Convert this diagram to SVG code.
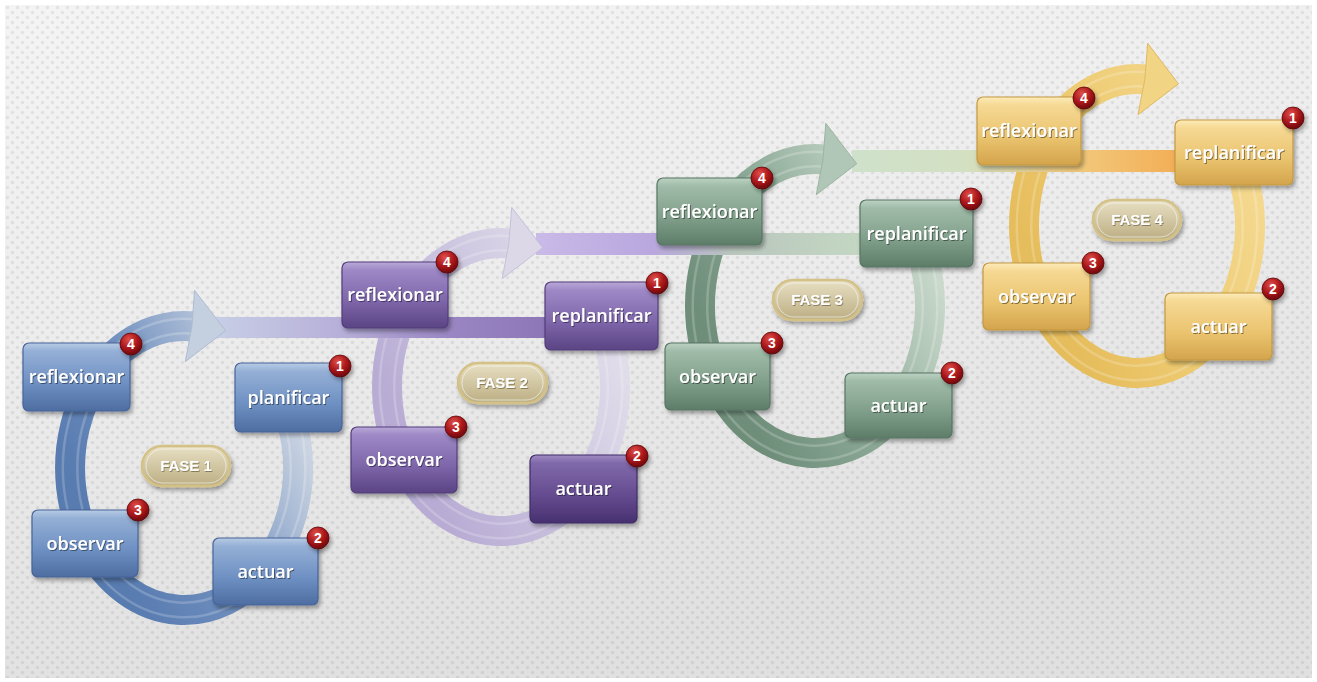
<svg xmlns="http://www.w3.org/2000/svg" width="1317" height="682" viewBox="0 0 1317 682">
<defs>
<linearGradient id="bg" x1="0" y1="0" x2="0.3" y2="1">
<stop offset="0" stop-color="#f4f4f4"/><stop offset="0.5" stop-color="#ececec"/><stop offset="1" stop-color="#e0e0e0"/>
</linearGradient>
<pattern id="dots" width="10" height="10" patternUnits="userSpaceOnUse">
<circle cx="2.5" cy="2.5" r="1.7" fill="#000" fill-opacity="0.07"/>
<circle cx="7.5" cy="7.5" r="1.7" fill="#000" fill-opacity="0.07"/>
</pattern>
<linearGradient id="gBlue" x1="0" y1="0" x2="0" y2="1">
<stop offset="0" stop-color="#b8cbe4"/><stop offset="0.12" stop-color="#95b0d6"/><stop offset="0.6" stop-color="#6d8fc2"/><stop offset="1" stop-color="#4e6da0"/>
</linearGradient>
<linearGradient id="gPurple" x1="0" y1="0" x2="0" y2="1">
<stop offset="0" stop-color="#b9a9d8"/><stop offset="0.12" stop-color="#9e89c6"/><stop offset="0.6" stop-color="#7d65a9"/><stop offset="1" stop-color="#5b4484"/>
</linearGradient>
<linearGradient id="gPurpleD" x1="0" y1="0" x2="0" y2="1">
<stop offset="0" stop-color="#a08bc3"/><stop offset="0.12" stop-color="#8069aa"/><stop offset="0.6" stop-color="#644b8f"/><stop offset="1" stop-color="#473170"/>
</linearGradient>
<linearGradient id="gGreen" x1="0" y1="0" x2="0" y2="1">
<stop offset="0" stop-color="#bcd2c2"/><stop offset="0.12" stop-color="#a0bca9"/><stop offset="0.6" stop-color="#7f9e89"/><stop offset="1" stop-color="#5e7d69"/>
</linearGradient>
<linearGradient id="gGold" x1="0" y1="0" x2="0" y2="1">
<stop offset="0" stop-color="#fcebb8"/><stop offset="0.12" stop-color="#f6d994"/><stop offset="0.6" stop-color="#eac36e"/><stop offset="1" stop-color="#d3a44c"/>
</linearGradient>
<linearGradient id="rBlue" x1="0.1" y1="0.7" x2="0.9" y2="0.2">
<stop offset="0" stop-color="#587bb0"/><stop offset="0.45" stop-color="#7090bf"/><stop offset="1" stop-color="#c8d2e1" stop-opacity="0.9"/>
</linearGradient>
<linearGradient id="rPurple" x1="0.1" y1="0.7" x2="0.9" y2="0.2">
<stop offset="0" stop-color="#b8acd4"/><stop offset="0.45" stop-color="#c9c1de"/><stop offset="1" stop-color="#e0dcea" stop-opacity="0.9"/>
</linearGradient>
<linearGradient id="rGreen" x1="0.1" y1="0.7" x2="0.9" y2="0.2">
<stop offset="0" stop-color="#6f8e7a"/><stop offset="0.45" stop-color="#8aa895"/><stop offset="1" stop-color="#c6d7c9" stop-opacity="0.9"/>
</linearGradient>
<linearGradient id="rGold" x1="0.1" y1="0.7" x2="0.9" y2="0.2">
<stop offset="0" stop-color="#e6bd5c"/><stop offset="0.45" stop-color="#eecb72"/><stop offset="1" stop-color="#f4d88e"/>
</linearGradient>
<linearGradient id="bandA" x1="212" y1="0" x2="552" y2="0" gradientUnits="userSpaceOnUse">
<stop offset="0" stop-color="#c8cfe6"/><stop offset="0.38" stop-color="#b7afd9"/><stop offset="0.7" stop-color="#9a86c3"/><stop offset="1" stop-color="#8d76b7"/>
</linearGradient>
<linearGradient id="bandB" x1="536" y1="0" x2="866" y2="0" gradientUnits="userSpaceOnUse">
<stop offset="0" stop-color="#c9bae8"/><stop offset="0.35" stop-color="#b9a7de"/><stop offset="0.6" stop-color="#b9c6bd"/><stop offset="1" stop-color="#c4d8c3"/>
</linearGradient>
<linearGradient id="bandC" x1="852" y1="0" x2="1180" y2="0" gradientUnits="userSpaceOnUse">
<stop offset="0" stop-color="#cfe1cb"/><stop offset="0.35" stop-color="#d3e0c2"/><stop offset="0.65" stop-color="#f1cc80"/><stop offset="1" stop-color="#f3ad55"/>
</linearGradient>
<radialGradient id="badgeG" cx="0.4" cy="0.3" r="0.7">
<stop offset="0" stop-color="#e0504a"/><stop offset="0.6" stop-color="#a8151a"/><stop offset="1" stop-color="#6e0a0c"/>
</radialGradient>
<linearGradient id="pillG" x1="0" y1="0" x2="0" y2="1">
<stop offset="0" stop-color="#e8e0c4"/><stop offset="0.5" stop-color="#d2c7a3"/><stop offset="1" stop-color="#bcae84"/>
</linearGradient>
<filter id="shadow" x="-20%" y="-20%" width="150%" height="160%">
<feDropShadow dx="2" dy="3" stdDeviation="2" flood-color="#000" flood-opacity="0.35"/>
</filter>
<filter id="tshadow" x="-10%" y="-20%" width="130%" height="160%">
<feDropShadow dx="1" dy="1" stdDeviation="0.7" flood-color="#000" flood-opacity="0.45"/>
</filter>
<filter id="pshadow" x="-10%" y="-30%" width="130%" height="170%">
<feDropShadow dx="0.8" dy="1" stdDeviation="0.5" flood-color="#6b5f3c" flood-opacity="0.7"/>
</filter>
<style>
.box{stroke-width:1.2;filter:url(#shadow)}
.blue{fill:url(#gBlue);stroke:#46649a}
.purple{fill:url(#gPurple);stroke:#523d7a}
.purpled{fill:url(#gPurpleD);stroke:#3f2c66}
.green{fill:url(#gGreen);stroke:#577563}
.gold{fill:url(#gGold);stroke:#c39843}
.lbl{font-family:"Open Sans","Liberation Sans",sans-serif;font-weight:600;font-size:18px;fill:#fff;text-anchor:middle;filter:url(#tshadow)}
.badge{fill:url(#badgeG);stroke:#5a0608;stroke-width:0.8;filter:url(#shadow)}
.num{font-family:"Liberation Sans",Arial,sans-serif;font-weight:bold;font-size:14px;fill:#fff;text-anchor:middle}
.pill{fill:url(#pillG);stroke:#d4c185;stroke-width:2.4;filter:url(#shadow)}
.pillhl{fill:none;stroke:#fff;stroke-opacity:0.55;stroke-width:1}
.ptxt{font-family:"Liberation Sans Narrow","Liberation Sans",Arial,sans-serif;font-weight:bold;font-size:15px;fill:#ffffff;text-anchor:middle;filter:url(#pshadow)}
.ring{fill:none;stroke-width:30}
.groove{fill:none;stroke:#fff;stroke-opacity:0.2;stroke-width:17}
.inner{fill:none;stroke-width:12}
</style>
</defs>

<rect width="1317" height="682" fill="#ffffff"/>
<rect x="5" y="5" width="1307" height="673" fill="url(#bg)"/>
<rect x="5" y="5" width="1307" height="673" fill="url(#dots)"/>

<g id="connectors">
<g id="ring1">
<path class="ring" stroke="url(#rBlue)" d="M277.4 386.5 A114 142 0 1 1 195.9 326.8"/>
<path class="groove" d="M277.4 386.5 A114 142 0 1 1 195.9 326.8"/>
<path class="inner" stroke="url(#rBlue)" d="M277.4 386.5 A114 142 0 1 1 195.9 326.8"/>
</g>
<g id="ring2">
<path class="ring" stroke="url(#rPurple)" d="M594.4 304.4 A114 144 0 1 1 512.9 243.8"/>
<path class="groove" d="M594.4 304.4 A114 144 0 1 1 512.9 243.8"/>
<path class="inner" stroke="url(#rPurple)" d="M594.4 304.4 A114 144 0 1 1 512.9 243.8"/>
</g>
<g id="ring3">
<path class="ring" stroke="url(#rGreen)" d="M909.2 221.7 A115 147 0 1 1 827.0 159.8"/>
<path class="groove" d="M909.2 221.7 A115 147 0 1 1 827.0 159.8"/>
<path class="inner" stroke="url(#rGreen)" d="M909.2 221.7 A115 147 0 1 1 827.0 159.8"/>
</g>
<g id="ring4">
<path class="ring" stroke="url(#rGold)" d="M1229.6 141.7 A113 147 0 1 1 1148.8 79.8"/>
<path class="groove" d="M1229.6 141.7 A113 147 0 1 1 1148.8 79.8"/>
<path class="inner" stroke="url(#rGold)" d="M1229.6 141.7 A113 147 0 1 1 1148.8 79.8"/>
</g>
<rect x="212" y="317" width="340" height="21" fill="url(#bandA)"/>
<rect x="536" y="233" width="330" height="22" fill="url(#bandB)"/>
<rect x="852" y="150" width="328" height="22" fill="url(#bandC)"/>
<polygon points="194.6,290.4 225.6,330.7 185.3,361.7 191.9,326.3" fill="#c4cfdf" stroke="#aebcd1" stroke-width="1"/>
<polygon points="511.7,207.3 542.6,247.7 502.2,278.7 508.9,243.3" fill="#dcd8e7" stroke="#c6c0d8" stroke-width="1"/>
<polygon points="825.8,123.3 856.7,163.8 816.3,194.7 823.0,159.3" fill="#b0c6b6" stroke="#9cb5a3" stroke-width="1"/>
<polygon points="1147.7,43.3 1178.5,83.9 1138.0,114.7 1144.8,79.3" fill="#f2d485" stroke="#e0ba62" stroke-width="1"/>
</g>

<g id="fase1">
<rect class="pill" x="142" y="446" width="88" height="40" rx="20"/>
<rect class="pillhl" x="146" y="449" width="80" height="34" rx="17"/>
<text class="ptxt" x="186" y="471">FASE 1</text>
</g>
<g id="fase2">
<rect class="pill" x="458" y="363" width="89" height="40" rx="20"/>
<rect class="pillhl" x="462" y="366" width="81" height="34" rx="17"/>
<text class="ptxt" x="502" y="388">FASE 2</text>
</g>
<g id="fase3">
<rect class="pill" x="773" y="280" width="89" height="40" rx="20"/>
<rect class="pillhl" x="777" y="283" width="81" height="34" rx="17"/>
<text class="ptxt" x="817" y="305">FASE 3</text>
</g>
<g id="fase4">
<rect class="pill" x="1093" y="200" width="88" height="40" rx="20"/>
<rect class="pillhl" x="1097" y="203" width="80" height="34" rx="17"/>
<text class="ptxt" x="1137" y="225">FASE 4</text>
</g>

<g id="p1-reflexionar">
<rect class="box blue" x="23" y="343" width="107" height="68" rx="6"/>
<text class="lbl" x="76.5" y="383">reflexionar</text>
<circle class="badge" cx="131" cy="344" r="11"/><text class="num" x="131" y="349">4</text>
</g>
<g id="p1-planificar">
<rect class="box blue" x="235" y="363" width="107" height="69" rx="6"/>
<text class="lbl" x="288.5" y="404">planificar</text>
<circle class="badge" cx="340" cy="366" r="11"/><text class="num" x="340" y="371">1</text>
</g>
<g id="p1-observar">
<rect class="box blue" x="32" y="510" width="106" height="67" rx="6"/>
<text class="lbl" x="85" y="550">observar</text>
<circle class="badge" cx="138" cy="510" r="11"/><text class="num" x="138" y="515">3</text>
</g>
<g id="p1-actuar">
<rect class="box blue" x="213" y="538" width="105" height="67" rx="6"/>
<text class="lbl" x="265.5" y="578">actuar</text>
<circle class="badge" cx="318" cy="538" r="11"/><text class="num" x="318" y="543">2</text>
</g>

<g id="p2-reflexionar">
<rect class="box purple" x="342" y="262" width="106" height="66" rx="6"/>
<text class="lbl" x="395" y="301">reflexionar</text>
<circle class="badge" cx="447" cy="262" r="11"/><text class="num" x="447" y="267">4</text>
</g>
<g id="p2-replanificar">
<rect class="box purple" x="545" y="282" width="113" height="68" rx="6"/>
<text class="lbl" x="601.5" y="322">replanificar</text>
<circle class="badge" cx="657" cy="283" r="11"/><text class="num" x="657" y="288">1</text>
</g>
<g id="p2-observar">
<rect class="box purple" x="351" y="427" width="106" height="66" rx="6"/>
<text class="lbl" x="404" y="466">observar</text>
<circle class="badge" cx="456" cy="427" r="11"/><text class="num" x="456" y="432">3</text>
</g>
<g id="p2-actuar">
<rect class="box purpled" x="530" y="455" width="107" height="68" rx="6"/>
<text class="lbl" x="583.5" y="495">actuar</text>
<circle class="badge" cx="637" cy="456" r="11"/><text class="num" x="637" y="461">2</text>
</g>

<g id="p3-reflexionar">
<rect class="box green" x="657" y="178" width="105" height="67" rx="6"/>
<text class="lbl" x="709.5" y="218">reflexionar</text>
<circle class="badge" cx="762" cy="178" r="11"/><text class="num" x="762" y="183">4</text>
</g>
<g id="p3-replanificar">
<rect class="box green" x="860" y="200" width="113" height="67" rx="6"/>
<text class="lbl" x="916.5" y="240">replanificar</text>
<circle class="badge" cx="971" cy="199" r="11"/><text class="num" x="971" y="204">1</text>
</g>
<g id="p3-observar">
<rect class="box green" x="665" y="343" width="105" height="67" rx="6"/>
<text class="lbl" x="717.5" y="383">observar</text>
<circle class="badge" cx="772" cy="343" r="11"/><text class="num" x="772" y="348">3</text>
</g>
<g id="p3-actuar">
<rect class="box green" x="845" y="373" width="107" height="65" rx="6"/>
<text class="lbl" x="898.5" y="412">actuar</text>
<circle class="badge" cx="952" cy="373" r="11"/><text class="num" x="952" y="378">2</text>
</g>

<g id="p4-reflexionar">
<rect class="box gold" x="977" y="97" width="104" height="68" rx="6"/>
<text class="lbl" x="1029" y="137">reflexionar</text>
<circle class="badge" cx="1084" cy="98" r="11"/><text class="num" x="1084" y="103">4</text>
</g>
<g id="p4-replanificar">
<rect class="box gold" x="1175" y="120" width="118" height="65" rx="6"/>
<text class="lbl" x="1234" y="159">replanificar</text>
<circle class="badge" cx="1293" cy="118" r="11"/><text class="num" x="1293" y="123">1</text>
</g>
<g id="p4-observar">
<rect class="box gold" x="983" y="263" width="107" height="67" rx="6"/>
<text class="lbl" x="1036.5" y="303">observar</text>
<circle class="badge" cx="1093" cy="263" r="11"/><text class="num" x="1093" y="268">3</text>
</g>
<g id="p4-actuar">
<rect class="box gold" x="1165" y="293" width="107" height="67" rx="6"/>
<text class="lbl" x="1218.5" y="333">actuar</text>
<circle class="badge" cx="1273" cy="289" r="11"/><text class="num" x="1273" y="294">2</text>
</g>
</svg>
